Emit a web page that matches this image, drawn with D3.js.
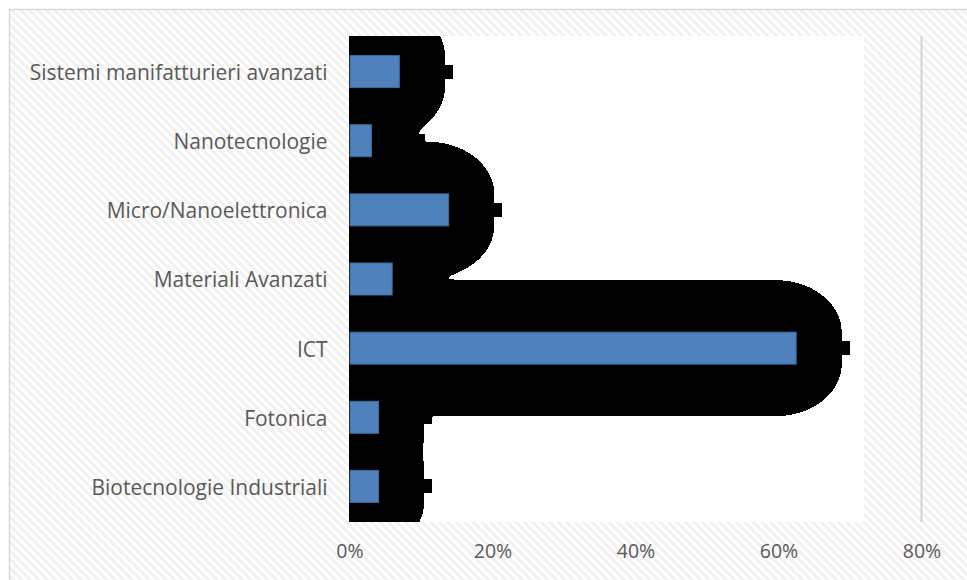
<!DOCTYPE html>
<html>
<head>
<meta charset="utf-8">
<script src="https://cdn.jsdelivr.net/npm/d3@7"></script>
<style>
  html, body { margin: 0; padding: 0; background: #fff; }
  svg { display: block; }
  .lbl text { font-family: "Open Sans", "Noto Sans", sans-serif; fill: #595959; }
</style>
</head>
<body>
<svg id="chart" width="967" height="580"></svg>
<script>
// Categories, top to bottom
const categories = [
  "Sistemi manifatturieri avanzati",
  "Nanotecnologie",
  "Micro/Nanoelettronica",
  "Materiali Avanzati",
  "ICT",
  "Fotonica",
  "Biotecnologie Industriali"
];
// Share of each technology
const shares = [0.069, 0.030, 0.138, 0.059, 0.624, 0.040, 0.040];
// Axis ticks
const tickValues = [0, 0.2, 0.4, 0.6, 0.8];

const svg = d3.select("#chart");
const W = 967, H = 580;

// Geometry of the plot area
const plot = { left: 349.5, right: 864, top: 36, bottom: 522 };

const x = d3.scaleLinear().domain([0, 0.8]).range([plot.left, 921.5]);
const y = d3.scaleBand().domain(categories).range([37, 521])
  .paddingInner(0.537).paddingOuter(0.2685);

// Hatched chart background
const defs = svg.append("defs");
const pat = defs.append("pattern")
  .attr("id", "hatch")
  .attr("patternUnits", "userSpaceOnUse")
  .attr("width", 6).attr("height", 6)
  .attr("patternTransform", "rotate(-45)");
pat.append("rect").attr("width", 6).attr("height", 6).attr("fill", "#ffffff");
pat.append("rect").attr("width", 3).attr("height", 6).attr("fill", "#f1f1f1");

svg.append("rect").attr("width", W).attr("height", H).attr("fill", "#fff");
svg.append("rect")
  .attr("x", 9.5).attr("y", 9.5)
  .attr("width", W + 20).attr("height", H + 20)
  .attr("fill", "url(#hatch)")
  .attr("stroke", "#d9d9d9").attr("stroke-width", 1.5);

// Plot area
svg.append("rect")
  .attr("x", plot.left - 0.5).attr("y", plot.top)
  .attr("width", plot.right - plot.left + 0.5)
  .attr("height", plot.bottom - plot.top)
  .attr("fill", "#fff");

// Gridline at the last tick
svg.append("line")
  .attr("x1", x(0.8)).attr("x2", x(0.8))
  .attr("y1", plot.top).attr("y2", plot.bottom)
  .attr("stroke", "#d4d4d4").attr("stroke-width", 2);

// Dark glow behind the bars: a soft union of elliptical halos around each bar
const glowInset = 20, glowX = 66, glowY = 52, k = 8, nubLen = 8, nubHalf = 7;
const barsGeom = categories.map((c, i) => ({
  x1: x(shares[i]), y0: y(c), y1: y(c) + y.bandwidth(),
  cy: y(c) + y.bandwidth() / 2
}));
function field(px, py) {
  let s = 0;
  for (const b of barsGeom) {
    const dx = Math.max(0, px - (b.x1 - glowInset)) / glowX;
    const dy = Math.max(0, b.y0 - py, py - b.y1) / glowY;
    s += Math.exp(-k * (dx * dx + dy * dy - 1));
  }
  return s;
}
function extent(py) {
  let e = plot.left;
  for (let px = Math.floor(plot.right); px >= plot.left; px--) {
    if (field(px + 0.5, py + 0.5) >= 1) { e = px + 1; break; }
  }
  for (const b of barsGeom) {
    if (Math.abs(py + 0.5 - b.cy) <= nubHalf) {
      e = Math.max(e, b.x1 - glowInset + glowX + nubLen);
    }
  }
  return Math.min(e, plot.right);
}
let d = `M${plot.left - 0.5},${plot.top}`;
for (let py = plot.top; py < plot.bottom; py++) {
  const e = Math.round(extent(py));
  d += `H${e}V${py + 1}`;
}
d += `H${plot.left - 0.5}Z`;
svg.append("path").attr("d", d).attr("fill", "#000").attr("shape-rendering", "crispEdges");

// Bars
svg.append("g").selectAll("rect")
  .data(categories)
  .join("rect")
  .attr("x", x(0) + 0.5)
  .attr("y", (c) => y(c))
  .attr("width", (c, i) => x(shares[i]) - x(0))
  .attr("height", y.bandwidth())
  .attr("fill", "#4f81bd")
  .attr("stroke", "#3d6a9c")
  .attr("stroke-width", 1);

// Category axis; the font size is set so the longest label spans 298px
const yAxis = svg.append("g")
  .attr("class", "lbl")
  .attr("transform", `translate(${plot.left},0)`)
  .call(d3.axisLeft(y).tickSize(0).tickPadding(22));
yAxis.select(".domain").remove();
const catText = yAxis.selectAll("text").attr("font-size", 20);
const longest = d3.max(catText.nodes(), (n) => n.getComputedTextLength());
const catSize = Math.min(22, Math.max(16, 20 * 298 / longest));
catText.attr("font-size", catSize).attr("dy", "0.4em");

// Value axis
const xAxis = svg.append("g")
  .attr("class", "lbl")
  .attr("transform", `translate(0,${plot.bottom})`)
  .call(d3.axisBottom(x).tickValues(tickValues).tickFormat(d3.format(".0%")).tickSize(0).tickPadding(22));
xAxis.select(".domain").remove();
xAxis.selectAll("text")
  .attr("font-size", 19.5)
  .attr("dy", "0.71em");
</script>
</body>
</html>
